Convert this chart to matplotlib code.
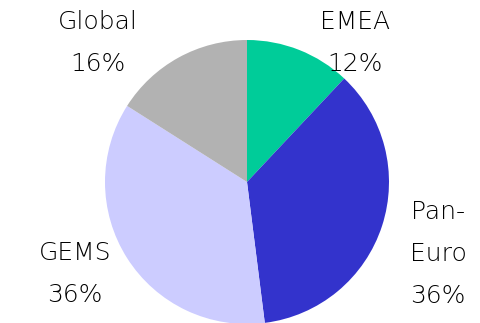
import matplotlib
matplotlib.use("Agg")
import matplotlib.pyplot as plt

# Share of assets by region
regions = ["EMEA", "Pan-\nEuro", "GEMS", "Global"]
shares = [12, 36, 36, 16]
colors = ["#00CC99", "#3333CC", "#CCCCFF", "#B2B2B2"]

W, H = 480, 323
fig = plt.figure(figsize=(W / 100, H / 100), dpi=100)
ax = fig.add_axes([0, 0, 1, 1])

cx, cy, r = 247, H - 182, 142
ax.pie(shares, colors=colors, startangle=90, counterclock=False,
       center=(cx, cy), radius=r, frame=True,
       wedgeprops=dict(linewidth=0))
ax.set_xlim(0, W)
ax.set_ylim(0, H)
ax.set_aspect("equal")
ax.axis("off")

# label anchor: (x, y of first line) in pixel coordinates from top
anchors = [(355, 22), (438, 212), (75, 253), (98, 22)]
step = 42
font = dict(fontsize=18, color="#000000", ha="center", va="center",
            family=["DejaVu Sans"], fontweight="light")
for name, val, (x, y) in zip(regions, shares, anchors):
    lines = name.split("\n") + [f"{val}%"]
    for i, line in enumerate(lines):
        ax.text(x, H - (y + i * step), line, **font)

fig.savefig("out.png", dpi=100)
